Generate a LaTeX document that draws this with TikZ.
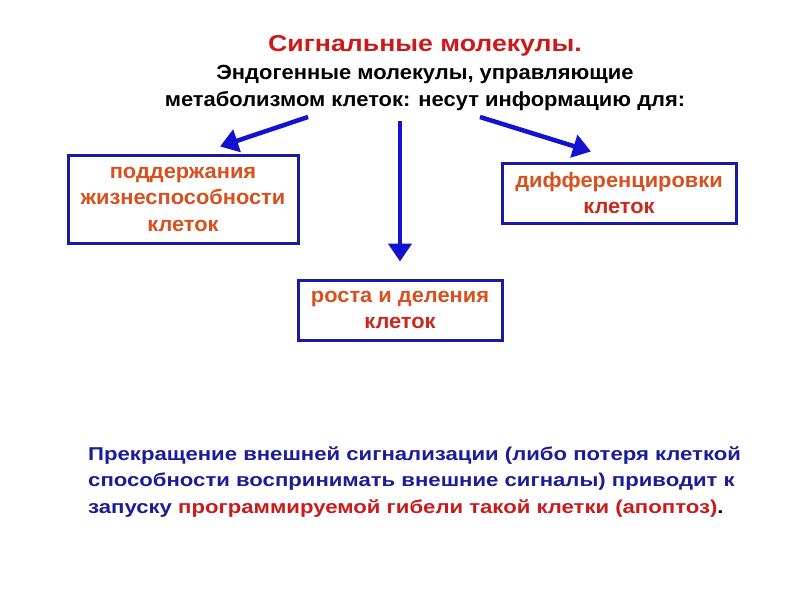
\documentclass[tikz,border=0pt]{standalone}
\usepackage{fontspec}
\setmainfont{Liberation Sans}
\usepackage{tikz}
\usetikzlibrary{arrows.meta,positioning,calc}
\definecolor{sigRed}{HTML}{CC1A1A}
\definecolor{sigOrange}{HTML}{D8501E}
\definecolor{sigBoxRed}{HTML}{C92A1E}
\definecolor{sigBlue}{HTML}{1A1AA8}
\definecolor{sigArrow}{HTML}{1212D0}
\definecolor{sigText}{HTML}{1C1C9A}
\newfontfamily\wideA[FakeStretch=1.16]{Liberation Sans}
\newfontfamily\wideB[FakeStretch=1.07]{Liberation Sans}
\newfontfamily\wideC[FakeStretch=1.04]{Liberation Sans}
\newfontfamily\wideD[FakeStretch=1.19]{Liberation Sans}
\tikzset{
  sgBox/.style={draw=sigBlue, line width=3pt, fill=white,
    font=\wideC\fontsize{21}{26.5}\selectfont\bfseries, align=center, text=sigOrange},
  %% Arrows from the heading
  sgArr/.style={-{Triangle[length=18pt,width=23pt]}, line width=4.5pt, sigArrow},
  sgHead/.style={font=\wideB\fontsize{20.5}{27}\selectfont\bfseries, align=center},
}

\begin{document}
\begin{tikzpicture}[x=1pt, y=1pt]
\useasboundingbox[fill=white] (0,0) rectangle (800,-600);

%% Heading
\node[sgHead, text=sigRed, font=\wideA\fontsize{23}{27}\selectfont\bfseries] (tTitle) at (425,-46) {Сигнальные молекулы.};
\node[sgHead] (tSub) at (425,-88) {Эндогенные молекулы, управляющие\\метаболизмом клеток: несут информацию для:};

%% Boxes
\node[sgBox, minimum width=230, minimum height=88, text depth=0pt] (bxLife) at (183,-199)
  {поддержания\\жизнеспособности\\клеток};
\node[sgBox, minimum width=234, minimum height=60] (bxDiff) at (619,-193)
  {дифференцировки\\\textcolor{sigBoxRed}{клеток}};
\node[sgBox, minimum width=204, minimum height=60] (bxGrow) at (400,-310)
  {роста и деления\\\textcolor{sigBoxRed}{клеток}};

%% Arrows
\coordinate (aL) at (308,-117);
\coordinate (aM) at (400,-121);
\coordinate (aR) at (480,-117);
\draw[sgArr] (aL) -- ($(bxLife.north)+(37,7)$);
\draw[sgArr] (aM) -- ($(bxGrow.north)+(0,17)$);
\draw[sgArr] (aR) -- ($(bxDiff.north)+(-28,10)$);

%% Footnote
\node[anchor=north west, align=left, text=sigText, font=\wideD\fontsize{18.6}{26.5}\selectfont\bfseries, inner sep=0pt] (tNote) at (88,-446)
  {Прекращение внешней сигнализации (либо потеря клеткой\\
   способности воспринимать внешние сигналы) приводит к\\
   запуску \textcolor{sigRed}{программируемой гибели такой клетки (апоптоз)}\textcolor{black}{.}};

\end{tikzpicture}
\end{document}
